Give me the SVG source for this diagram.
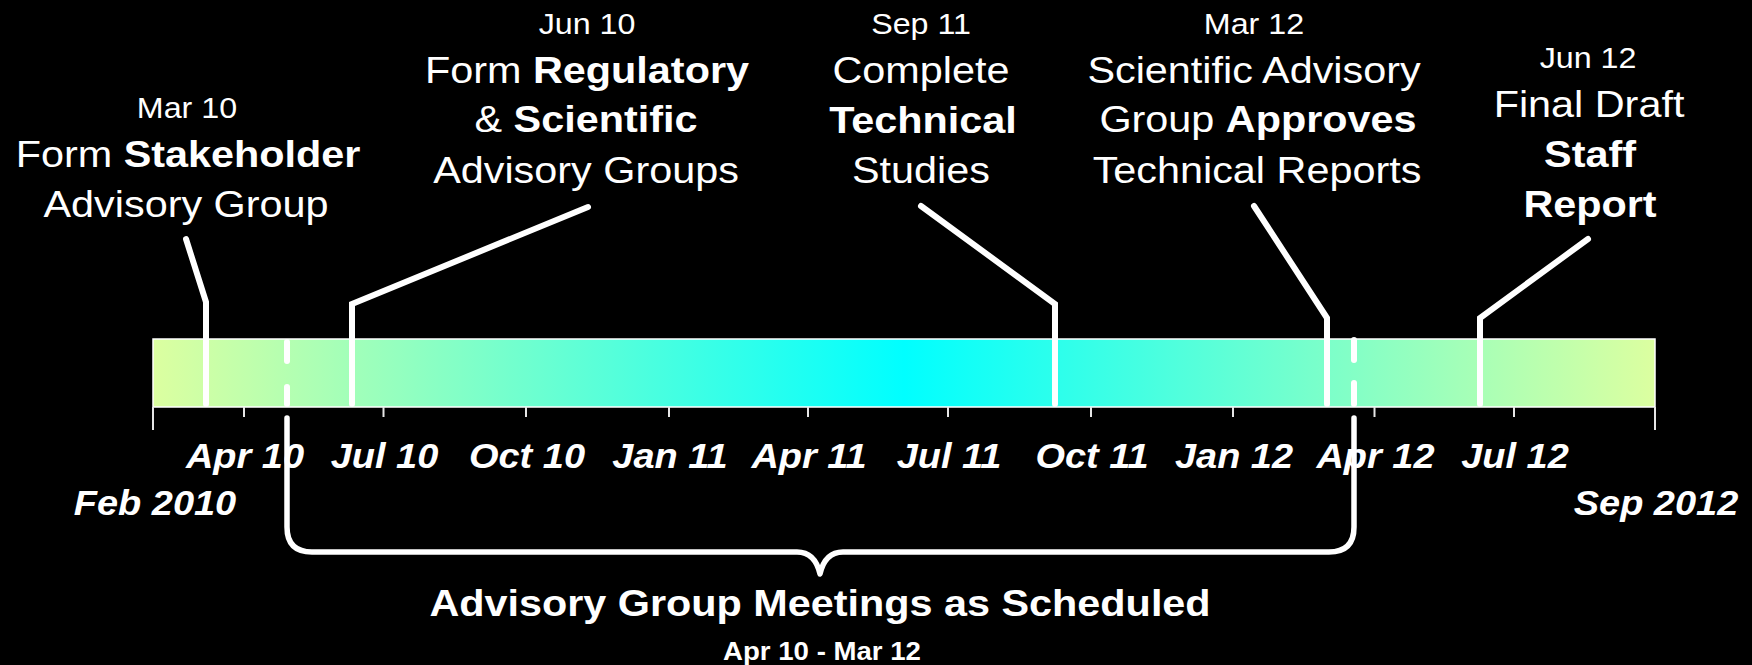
<svg xmlns="http://www.w3.org/2000/svg" width="1752" height="665" viewBox="0 0 1752 665">
  <defs>
    <linearGradient id="barGrad" x1="0" y1="0" x2="1" y2="0">
      <stop offset="0" stop-color="#dcffa0"/>
      <stop offset="0.5" stop-color="#00ffff"/>
      <stop offset="1" stop-color="#dcffa0"/>
    </linearGradient>
  </defs>
  <style>
    .t { font-family: "Liberation Sans", Arial, sans-serif; fill: #ffffff; text-anchor: middle; }
    .date { font-size: 29.3px; }
    .main { font-size: 37.6px; }
    .b { font-weight: bold; }
    .small { font-size: 25.1px; font-weight: bold; }
    .tick { font-size: 34.5px; font-weight: bold; font-style: italic; }
    .lead { fill: none; stroke: #ffffff; stroke-width: 6; stroke-linecap: round; stroke-linejoin: miter; }
    .dash { fill: none; stroke: #ffffff; stroke-width: 6; stroke-linecap: round; }
    .tk { stroke: #e6e6e6; stroke-width: 2; }
    .brace { fill: none; stroke: #ffffff; stroke-width: 5.5; stroke-linecap: round; stroke-linejoin: round; }
  </style>
  <rect x="0" y="0" width="1752" height="665" fill="#000000"/>

  <g id="timeline-bar">
    <rect x="153" y="339" width="1502" height="68" fill="url(#barGrad)" stroke="#ffffff" stroke-width="1.5"/>
  </g>

  <g id="axis">
    <line class="tk" x1="153" y1="407" x2="153" y2="430"/>
    <line class="tk" x1="244" y1="407" x2="244" y2="417"/>
    <line class="tk" x1="383.5" y1="407" x2="383.5" y2="417"/>
    <line class="tk" x1="526" y1="407" x2="526" y2="417"/>
    <line class="tk" x1="669" y1="407" x2="669" y2="417"/>
    <line class="tk" x1="808" y1="407" x2="808" y2="417"/>
    <line class="tk" x1="948" y1="407" x2="948" y2="417"/>
    <line class="tk" x1="1091" y1="407" x2="1091" y2="417"/>
    <line class="tk" x1="1233" y1="407" x2="1233" y2="417"/>
    <line class="tk" x1="1374.5" y1="407" x2="1374.5" y2="417"/>
    <line class="tk" x1="1514" y1="407" x2="1514" y2="417"/>
    <line class="tk" x1="1655" y1="407" x2="1655" y2="430"/>
    <text class="t tick" transform="translate(245 468) scale(1.1 1)">Apr 10</text>
    <text class="t tick" transform="translate(384.5 468) scale(1.1 1)">Jul 10</text>
    <text class="t tick" transform="translate(527 468) scale(1.1 1)">Oct 10</text>
    <text class="t tick" transform="translate(670 468) scale(1.1 1)">Jan 11</text>
    <text class="t tick" transform="translate(809 468) scale(1.1 1)">Apr 11</text>
    <text class="t tick" transform="translate(949 468) scale(1.1 1)">Jul 11</text>
    <text class="t tick" transform="translate(1092 468) scale(1.1 1)">Oct 11</text>
    <text class="t tick" transform="translate(1234 468) scale(1.1 1)">Jan 12</text>
    <text class="t tick" transform="translate(1375.5 468) scale(1.1 1)">Apr 12</text>
    <text class="t tick" transform="translate(1515 468) scale(1.1 1)">Jul 12</text>
    <text class="t tick" transform="translate(155 515) scale(1.1 1)">Feb 2010</text>
    <text class="t tick" transform="translate(1656 515) scale(1.1 1)">Sep 2012</text>
  </g>

  <g id="connectors">
    <path class="lead" d="M186 239 L206 302 L206 404"/>
    <path class="lead" d="M588 207 L352 304 L352 404"/>
    <path class="lead" d="M921 206 L1055 304 L1055 404"/>
    <path class="lead" d="M1254 206 L1327 318 L1327 404"/>
    <path class="lead" d="M1588 239 L1480 318 L1480 404"/>
    <line class="dash" x1="287" y1="342" x2="287" y2="361"/>
    <line class="dash" x1="287" y1="387" x2="287" y2="404"/>
    <line class="dash" x1="1354" y1="340" x2="1354" y2="360"/>
    <line class="dash" x1="1354" y1="383" x2="1354" y2="404"/>
    <path class="brace" d="M287 418 V527 Q287 552 312 552 H797 Q815 552 820 574 Q825 552 843 552 H1329 Q1354 552 1354 527 V418"/>
  </g>

  <g id="milestone-mar10">
    <text class="t date" transform="translate(187 118) scale(1.1 1)">Mar 10</text>
    <text class="t main" transform="translate(188 167) scale(1.1 1)">Form <tspan class="b">Stakeholder</tspan></text>
    <text class="t main" transform="translate(186 217) scale(1.1 1)">Advisory Group</text>
  </g>

  <g id="milestone-jun10">
    <text class="t date" transform="translate(587 34) scale(1.1 1)">Jun 10</text>
    <text class="t main" transform="translate(587 83) scale(1.1 1)">Form <tspan class="b">Regulatory</tspan></text>
    <text class="t main" transform="translate(586 132) scale(1.1 1)">&amp; <tspan class="b">Scientific</tspan></text>
    <text class="t main" transform="translate(586 183) scale(1.1 1)">Advisory Groups</text>
  </g>

  <g id="milestone-sep11">
    <text class="t date" transform="translate(921 34) scale(1.1 1)">Sep 11</text>
    <text class="t main" transform="translate(921 83) scale(1.1 1)">Complete</text>
    <text class="t main b" transform="translate(923 133) scale(1.1 1)">Technical</text>
    <text class="t main" transform="translate(921 183) scale(1.1 1)">Studies</text>
  </g>

  <g id="milestone-mar12">
    <text class="t date" transform="translate(1254 34) scale(1.1 1)">Mar 12</text>
    <text class="t main" transform="translate(1254 83) scale(1.1 1)">Scientific Advisory</text>
    <text class="t main" transform="translate(1258 132) scale(1.1 1)">Group <tspan class="b">Approves</tspan></text>
    <text class="t main" transform="translate(1257 183) scale(1.1 1)">Technical Reports</text>
  </g>

  <g id="milestone-jun12">
    <text class="t date" transform="translate(1588 68) scale(1.1 1)">Jun 12</text>
    <text class="t main" transform="translate(1589 117) scale(1.1 1)">Final Draft</text>
    <text class="t main b" transform="translate(1590 167) scale(1.1 1)">Staff</text>
    <text class="t main b" transform="translate(1590 217) scale(1.1 1)">Report</text>
  </g>

  <g id="meetings-label">
    <text class="t main b" transform="translate(820 616) scale(1.1 1)">Advisory Group Meetings as Scheduled</text>
    <text class="t small" transform="translate(822 660) scale(1.1 1)">Apr 10 - Mar 12</text>
  </g>
</svg>
